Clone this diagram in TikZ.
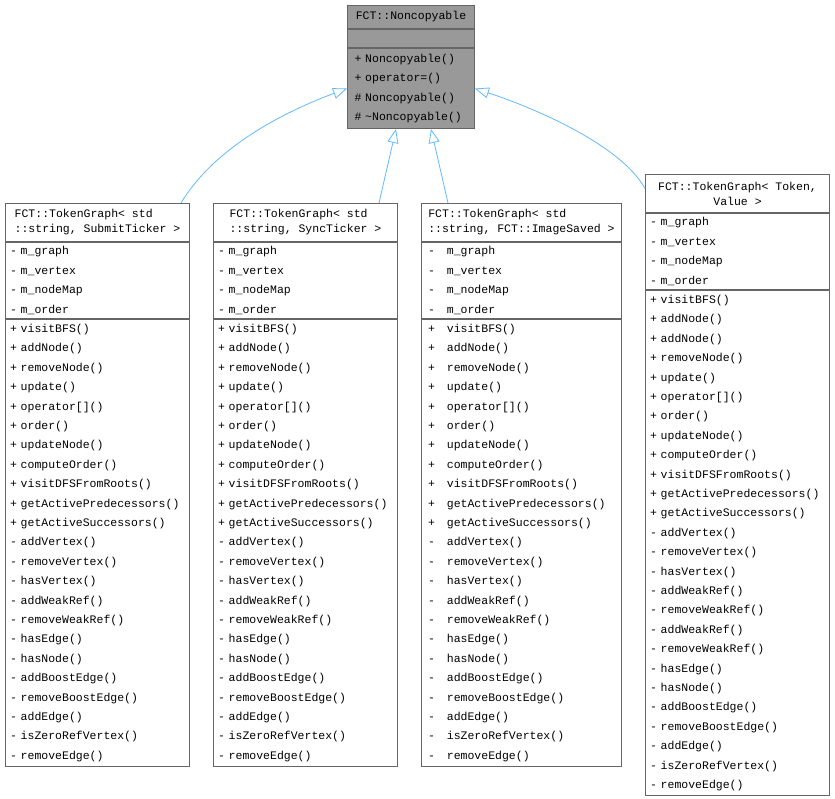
\documentclass[tikz,border=0pt]{standalone}
\usepackage{fontspec}
\setmonofont{Liberation Mono}
\usetikzlibrary{arrows.meta}

\definecolor{edgeblue}{HTML}{63B8FF}
\definecolor{boxline}{HTML}{666666}
\definecolor{basefill}{HTML}{999999}

% member lists of the TokenGraph classes
\newcommand\tgattrs[1]{-#1m\_graph\\ -#1m\_vertex\\ -#1m\_nodeMap\\ -#1m\_order}
\newcommand\tgops[1]{+#1visitBFS()\\ +#1addNode()\\ +#1removeNode()\\ +#1update()\\
	+#1operator[]()\\ +#1order()\\ +#1updateNode()\\ +#1computeOrder()\\
	+#1visitDFSFromRoots()\\ +#1getActivePredecessors()\\ +#1getActiveSuccessors()\\
	-#1addVertex()\\ -#1removeVertex()\\ -#1hasVertex()\\ -#1addWeakRef()\\
	-#1removeWeakRef()\\ -#1hasEdge()\\ -#1hasNode()\\ -#1addBoostEdge()\\
	-#1removeBoostEdge()\\ -#1addEdge()\\ -#1isZeroRefVertex()\\ -#1removeEdge()}

\tikzset{
	classtitle/.style={draw=boxline, line width=1pt, fill=white, inner sep=0pt,
		font=\ttfamily\fontsize{11.5}{15}\selectfont, minimum height=38pt, align=left},
	classpart/.style={draw=boxline, line width=1pt, fill=white, inner xsep=4.5pt, inner ysep=0pt,
		font=\ttfamily\fontsize{11.5}{19.4}\selectfont, align=left},
	inherit/.style={draw=edgeblue, line width=0.8pt, -{Triangle[open, length=14pt, width=11pt]}}
}

\begin{document}
\begin{tikzpicture}[x=1pt, y=-1pt]
		\useasboundingbox (0,0) rectangle (835,799);
		% base class
		\node[classtitle, fill=basefill, anchor=north west, minimum width=127pt, minimum height=23pt]
			(nc) at (347,5) {FCT::Noncopyable};
		\node[classpart, fill=basefill, anchor=north, minimum height=18pt, text width=113pt, inner xsep=7pt]
			(ncf) at (nc.south) {};
		\node[classpart, fill=basefill, anchor=north, minimum height=80pt, text width=113pt, inner xsep=7pt]
			(ncm) at (ncf.south) {+ Noncopyable()\\ + operator=()\\ \# Noncopyable()\\ \# \textasciitilde Noncopyable()};

		% derived classes
		\node[classtitle, anchor=north west, minimum width=184pt] (t1) at (5,203)
			{FCT::TokenGraph< std\\ ::string, SubmitTicker >};
		\node[classpart, anchor=north, text width=175pt, minimum height=76pt] (a1) at (t1.south) {\tgattrs{\ }};
		\node[classpart, anchor=north, text width=175pt, minimum height=447pt] (m1) at (a1.south) {\tgops{\ }};

		\node[classtitle, anchor=north west, minimum width=184pt] (t2) at (213,203)
			{FCT::TokenGraph< std\\ ::string, SyncTicker >};
		\node[classpart, anchor=north, text width=175pt, minimum height=76pt] (a2) at (t2.south) {\tgattrs{\ }};
		\node[classpart, anchor=north, text width=175pt, minimum height=447pt] (m2) at (a2.south) {\tgops{\ }};

		\node[classtitle, anchor=north west, minimum width=200pt] (t3) at (421,203)
			{FCT::TokenGraph< std\\ ::string, FCT::ImageSaved >};
		\node[classpart, anchor=north, text width=187pt, inner xsep=6.5pt, minimum height=76pt] (a3) at (t3.south)
			{\tgattrs{\hspace{12pt}}};
		\node[classpart, anchor=north, text width=187pt, inner xsep=6.5pt, minimum height=447pt] (m3) at (a3.south)
			{\tgops{\hspace{12pt}}};

		\node[classtitle, align=center, anchor=north west, minimum width=184pt] (t4) at (645,174)
			{FCT::TokenGraph< Token,\\ Value >};
		\node[classpart, anchor=north, text width=175pt, minimum height=76pt] (a4) at (t4.south) {\tgattrs{\ }};
		\node[classpart, anchor=north, text width=175pt, minimum height=505pt] (m4) at (a4.south)
			{+ visitBFS()\\ + addNode()\\ + addNode()\\ + removeNode()\\ + update()\\ + operator[]()\\
			+ order()\\ + updateNode()\\ + computeOrder()\\ + visitDFSFromRoots()\\
			+ getActivePredecessors()\\ + getActiveSuccessors()\\ - addVertex()\\ - removeVertex()\\
			- hasVertex()\\ - addWeakRef()\\ - removeWeakRef()\\ - addWeakRef()\\ - removeWeakRef()\\
			- hasEdge()\\ - hasNode()\\ - addBoostEdge()\\ - removeBoostEdge()\\ - addEdge()\\
			- isZeroRefVertex()\\ - removeEdge()};

		% inheritance
		\draw[inherit] ([xshift=-9pt]t1.north east) .. controls +(30,-50) and +(-75,28) .. (ncm.west);
		\draw[inherit] ([xshift=-19pt]t2.north east) -- ([xshift=-15pt]ncm.south);
		\draw[inherit] ([xshift=27pt]t3.north west) -- ([xshift=20pt]ncm.south);
		\draw[inherit] ([yshift=5pt]t4.west) .. controls +(-25,-45) and +(55,18) .. (ncm.east);
\end{tikzpicture}
\end{document}
